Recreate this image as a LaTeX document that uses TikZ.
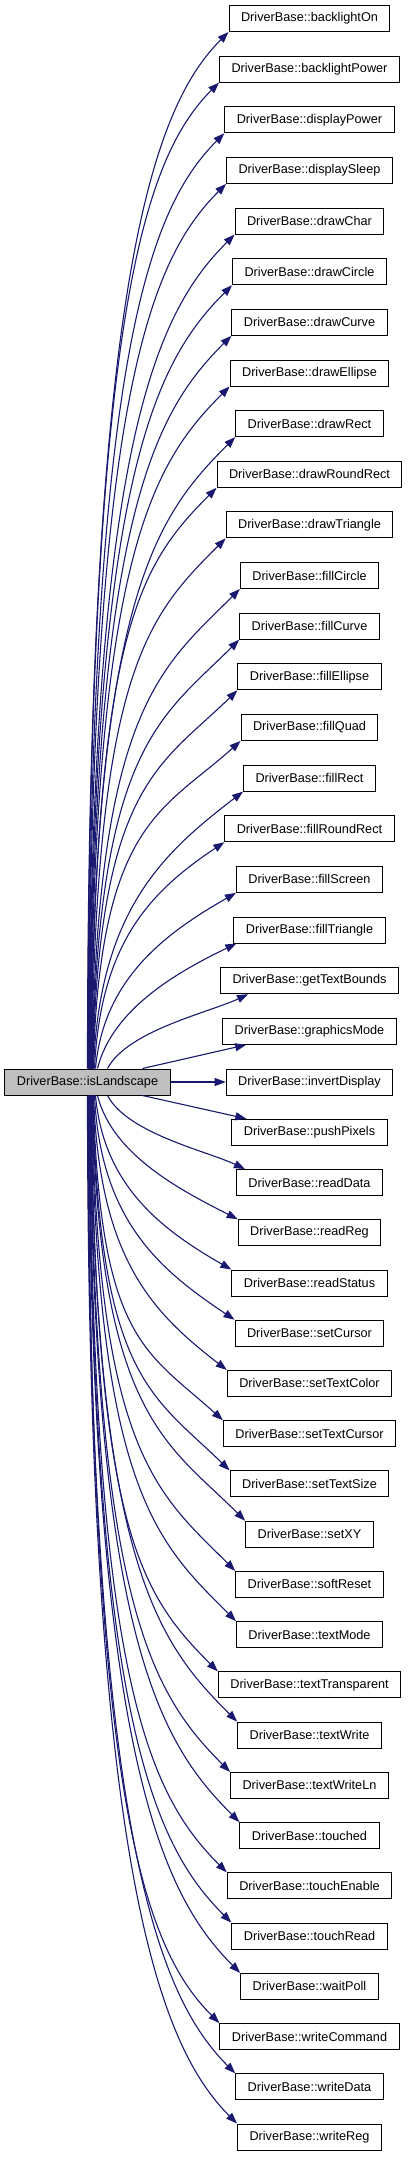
\documentclass[tikz,border=0pt]{standalone}
\usepackage{fontspec}
\setmainfont{Liberation Sans}
\usetikzlibrary{arrows.meta}
\definecolor{edgeblue}{HTML}{191970}
\definecolor{rootgray}{HTML}{BFBFBF}
\begin{document}
\begin{tikzpicture}[x=1pt,y=1pt,
  fn/.style={draw=black, line width=1pt, fill=white, minimum height=26pt, inner xsep=12pt, inner ysep=0pt, font=\fontsize{12.7}{15}\selectfont},
  root/.style={fn, fill=rootgray},
  call/.style={draw=edgeblue, line width=1.1pt, -{Triangle[length=11pt,width=8pt]}}]
\useasboundingbox[fill=white] (0,0) rectangle (407,-2165);
% caller
\node[root] (isLandscape) at (87.5,-1082) {DriverBase::isLandscape};
% callees
\node[fn] (backlightOn) at (309.5,-18.5) {DriverBase::backlightOn};
\node[fn] (backlightPower) at (309.5,-69.1) {DriverBase::backlightPower};
\node[fn] (displayPower) at (309.5,-119.8) {DriverBase::displayPower};
\node[fn] (displaySleep) at (309.5,-170.4) {DriverBase::displaySleep};
\node[fn] (drawChar) at (309.5,-221.1) {DriverBase::drawChar};
\node[fn] (drawCircle) at (309.5,-271.7) {DriverBase::drawCircle};
\node[fn] (drawCurve) at (309.5,-322.3) {DriverBase::drawCurve};
\node[fn] (drawEllipse) at (309.5,-373.0) {DriverBase::drawEllipse};
\node[fn] (drawRect) at (309.5,-423.6) {DriverBase::drawRect};
\node[fn] (drawRoundRect) at (309.5,-474.3) {DriverBase::drawRoundRect};
\node[fn] (drawTriangle) at (309.5,-524.9) {DriverBase::drawTriangle};
\node[fn] (fillCircle) at (309.5,-575.5) {DriverBase::fillCircle};
\node[fn] (fillCurve) at (309.5,-626.2) {DriverBase::fillCurve};
\node[fn] (fillEllipse) at (309.5,-676.8) {DriverBase::fillEllipse};
\node[fn] (fillQuad) at (309.5,-727.5) {DriverBase::fillQuad};
\node[fn] (fillRect) at (309.5,-778.1) {DriverBase::fillRect};
\node[fn] (fillRoundRect) at (309.5,-828.7) {DriverBase::fillRoundRect};
\node[fn] (fillScreen) at (309.5,-879.4) {DriverBase::fillScreen};
\node[fn] (fillTriangle) at (309.5,-930.0) {DriverBase::fillTriangle};
\node[fn] (getTextBounds) at (309.5,-980.7) {DriverBase::getTextBounds};
\node[fn] (graphicsMode) at (309.5,-1031.3) {DriverBase::graphicsMode};
\node[fn] (invertDisplay) at (309.5,-1082) {DriverBase::invertDisplay};
\node[fn] (pushPixels) at (309.5,-1132.2) {DriverBase::pushPixels};
\node[fn] (readData) at (309.5,-1182.5) {DriverBase::readData};
\node[fn] (readReg) at (309.5,-1232.7) {DriverBase::readReg};
\node[fn] (readStatus) at (309.5,-1283.0) {DriverBase::readStatus};
\node[fn] (setCursor) at (309.5,-1333.2) {DriverBase::setCursor};
\node[fn] (setTextColor) at (309.5,-1383.4) {DriverBase::setTextColor};
\node[fn] (setTextCursor) at (309.5,-1433.7) {DriverBase::setTextCursor};
\node[fn] (setTextSize) at (309.5,-1483.9) {DriverBase::setTextSize};
\node[fn] (setXY) at (309.5,-1534.2) {DriverBase::setXY};
\node[fn] (softReset) at (309.5,-1584.4) {DriverBase::softReset};
\node[fn] (textMode) at (309.5,-1634.6) {DriverBase::textMode};
\node[fn] (textTransparent) at (309.5,-1684.9) {DriverBase::textTransparent};
\node[fn] (textWrite) at (309.5,-1735.1) {DriverBase::textWrite};
\node[fn] (textWriteLn) at (309.5,-1785.4) {DriverBase::textWriteLn};
\node[fn] (touched) at (309.5,-1835.6) {DriverBase::touched};
\node[fn] (touchEnable) at (309.5,-1885.8) {DriverBase::touchEnable};
\node[fn] (touchRead) at (309.5,-1936.1) {DriverBase::touchRead};
\node[fn] (waitPoll) at (309.5,-1986.4) {DriverBase::waitPoll};
\node[fn] (writeCommand) at (309.5,-2036.6) {DriverBase::writeCommand};
\node[fn] (writeData) at (309.5,-2086.8) {DriverBase::writeData};
\node[fn] (writeReg) at (309.5,-2137.0) {DriverBase::writeReg};
% calls upwards
\draw[call] ([xshift=0pt]isLandscape.north) .. controls ([xshift=0pt,yshift=778pt]isLandscape.north) and ([shift={(-78pt,-78pt)}]backlightOn.south west) .. (backlightOn.south west);
\draw[call] ([xshift=0.4pt]isLandscape.north) .. controls ([xshift=0.9pt,yshift=740pt]isLandscape.north) and ([shift={(-78pt,-78pt)}]backlightPower.south west) .. (backlightPower.south west);
\draw[call] ([xshift=0.8pt]isLandscape.north) .. controls ([xshift=1.8pt,yshift=702pt]isLandscape.north) and ([shift={(-78pt,-78pt)}]displayPower.south west) .. (displayPower.south west);
\draw[call] ([xshift=1.2pt]isLandscape.north) .. controls ([xshift=2.7pt,yshift=664pt]isLandscape.north) and ([shift={(-78pt,-78pt)}]displaySleep.south west) .. (displaySleep.south west);
\draw[call] ([xshift=1.6pt]isLandscape.north) .. controls ([xshift=3.6pt,yshift=626pt]isLandscape.north) and ([shift={(-78pt,-78pt)}]drawChar.south west) .. (drawChar.south west);
\draw[call] ([xshift=2pt]isLandscape.north) .. controls ([xshift=4.5pt,yshift=588pt]isLandscape.north) and ([shift={(-78pt,-78pt)}]drawCircle.south west) .. (drawCircle.south west);
\draw[call] ([xshift=2.4pt]isLandscape.north) .. controls ([xshift=5.4pt,yshift=550pt]isLandscape.north) and ([shift={(-78pt,-78pt)}]drawCurve.south west) .. (drawCurve.south west);
\draw[call] ([xshift=2.8pt]isLandscape.north) .. controls ([xshift=6.3pt,yshift=512pt]isLandscape.north) and ([shift={(-78pt,-78pt)}]drawEllipse.south west) .. (drawEllipse.south west);
\draw[call] ([xshift=3.2pt]isLandscape.north) .. controls ([xshift=7.2pt,yshift=474pt]isLandscape.north) and ([shift={(-78pt,-78pt)}]drawRect.south west) .. (drawRect.south west);
\draw[call] ([xshift=3.6pt]isLandscape.north) .. controls ([xshift=8.1pt,yshift=436pt]isLandscape.north) and ([shift={(-78pt,-78pt)}]drawRoundRect.south west) .. (drawRoundRect.south west);
\draw[call] ([xshift=4pt]isLandscape.north) .. controls ([xshift=9pt,yshift=398pt]isLandscape.north) and ([shift={(-78pt,-78pt)}]drawTriangle.south west) .. (drawTriangle.south west);
\draw[call] ([xshift=4.4pt]isLandscape.north) .. controls ([xshift=9.9pt,yshift=360pt]isLandscape.north) and ([shift={(-78pt,-78pt)}]fillCircle.south west) .. (fillCircle.south west);
\draw[call] ([xshift=4.8pt]isLandscape.north) .. controls ([xshift=10.8pt,yshift=322pt]isLandscape.north) and ([shift={(-78pt,-78pt)}]fillCurve.south west) .. (fillCurve.south west);
\draw[call] ([xshift=5.2pt]isLandscape.north) .. controls ([xshift=11.7pt,yshift=284pt]isLandscape.north) and ([shift={(-78pt,-76pt)}]fillEllipse.south west) .. (fillEllipse.south west);
\draw[call] ([xshift=5.6pt]isLandscape.north) .. controls ([xshift=12.6pt,yshift=246pt]isLandscape.north) and ([shift={(-78pt,-70pt)}]fillQuad.south west) .. (fillQuad.south west);
\draw[call] ([xshift=6pt]isLandscape.north) .. controls ([xshift=12pt,yshift=160pt]isLandscape.north) and ([shift={(-78pt,-60pt)}]fillRect.south west) .. (fillRect.south west);
\draw[call] ([xshift=7pt]isLandscape.north) .. controls ([xshift=13pt,yshift=125pt]isLandscape.north) and ([shift={(-75pt,-50pt)}]fillRoundRect.south west) .. (fillRoundRect.south west);
\draw[call] ([xshift=8pt]isLandscape.north) .. controls ([xshift=16pt,yshift=90pt]isLandscape.north) and ([shift={(-70pt,-40pt)}]fillScreen.south west) .. (fillScreen.south west);
\draw[call] ([xshift=10pt]isLandscape.north) .. controls ([xshift=25pt,yshift=60pt]isLandscape.north) and ([shift={(-55pt,-28pt)}]fillTriangle.south west) .. ([xshift=3pt]fillTriangle.south west);
\draw[call] ([xshift=20pt]isLandscape.north) .. controls ([xshift=40pt,yshift=38pt]isLandscape.north) and ([shift={(-10pt,-18pt)}]getTextBounds.south west) .. ([xshift=28pt]getTextBounds.south west);
\draw[call] ([xshift=55pt]isLandscape.north) -- ([xshift=24pt]graphicsMode.south west);
% straight across
\draw[call] (isLandscape) -- (invertDisplay);
% calls downwards
\draw[call] ([xshift=55pt]isLandscape.south) -- ([xshift=15pt]pushPixels.north west);
\draw[call] ([xshift=20pt]isLandscape.south) .. controls ([xshift=40pt,yshift=-38pt]isLandscape.south) and ([shift={(-29pt,18pt)}]readData.north west) .. ([xshift=9pt]readData.north west);
\draw[call] ([xshift=10pt]isLandscape.south) .. controls ([xshift=25pt,yshift=-60pt]isLandscape.south) and ([shift={(-55pt,28pt)}]readReg.north west) .. (readReg.north west);
\draw[call] ([xshift=8pt]isLandscape.south) .. controls ([xshift=16pt,yshift=-90pt]isLandscape.south) and ([shift={(-70pt,40pt)}]readStatus.north west) .. (readStatus.north west);
\draw[call] ([xshift=7pt]isLandscape.south) .. controls ([xshift=13pt,yshift=-125pt]isLandscape.south) and ([shift={(-75pt,50pt)}]setCursor.north west) .. (setCursor.north west);
\draw[call] ([xshift=6pt]isLandscape.south) .. controls ([xshift=12pt,yshift=-160pt]isLandscape.south) and ([shift={(-78pt,60pt)}]setTextColor.north west) .. (setTextColor.north west);
\draw[call] ([xshift=5.6pt]isLandscape.south) .. controls ([xshift=12.6pt,yshift=-244pt]isLandscape.south) and ([shift={(-78pt,70pt)}]setTextCursor.north west) .. (setTextCursor.north west);
\draw[call] ([xshift=5.2pt]isLandscape.south) .. controls ([xshift=11.7pt,yshift=-282pt]isLandscape.south) and ([shift={(-78pt,76pt)}]setTextSize.north west) .. (setTextSize.north west);
\draw[call] ([xshift=4.8pt]isLandscape.south) .. controls ([xshift=10.8pt,yshift=-320pt]isLandscape.south) and ([shift={(-78pt,78pt)}]setXY.north west) .. (setXY.north west);
\draw[call] ([xshift=4.4pt]isLandscape.south) .. controls ([xshift=9.9pt,yshift=-357pt]isLandscape.south) and ([shift={(-78pt,78pt)}]softReset.north west) .. (softReset.north west);
\draw[call] ([xshift=4pt]isLandscape.south) .. controls ([xshift=9pt,yshift=-395pt]isLandscape.south) and ([shift={(-78pt,78pt)}]textMode.north west) .. (textMode.north west);
\draw[call] ([xshift=3.6pt]isLandscape.south) .. controls ([xshift=8.1pt,yshift=-433pt]isLandscape.south) and ([shift={(-78pt,78pt)}]textTransparent.north west) .. (textTransparent.north west);
\draw[call] ([xshift=3.2pt]isLandscape.south) .. controls ([xshift=7.2pt,yshift=-470pt]isLandscape.south) and ([shift={(-78pt,78pt)}]textWrite.north west) .. (textWrite.north west);
\draw[call] ([xshift=2.8pt]isLandscape.south) .. controls ([xshift=6.3pt,yshift=-508pt]isLandscape.south) and ([shift={(-78pt,78pt)}]textWriteLn.north west) .. (textWriteLn.north west);
\draw[call] ([xshift=2.4pt]isLandscape.south) .. controls ([xshift=5.4pt,yshift=-546pt]isLandscape.south) and ([shift={(-78pt,78pt)}]touched.north west) .. (touched.north west);
\draw[call] ([xshift=2pt]isLandscape.south) .. controls ([xshift=4.5pt,yshift=-584pt]isLandscape.south) and ([shift={(-78pt,78pt)}]touchEnable.north west) .. (touchEnable.north west);
\draw[call] ([xshift=1.6pt]isLandscape.south) .. controls ([xshift=3.6pt,yshift=-621pt]isLandscape.south) and ([shift={(-78pt,78pt)}]touchRead.north west) .. (touchRead.north west);
\draw[call] ([xshift=1.2pt]isLandscape.south) .. controls ([xshift=2.7pt,yshift=-659pt]isLandscape.south) and ([shift={(-78pt,78pt)}]waitPoll.north west) .. (waitPoll.north west);
\draw[call] ([xshift=0.8pt]isLandscape.south) .. controls ([xshift=1.8pt,yshift=-697pt]isLandscape.south) and ([shift={(-78pt,78pt)}]writeCommand.north west) .. (writeCommand.north west);
\draw[call] ([xshift=0.4pt]isLandscape.south) .. controls ([xshift=0.9pt,yshift=-734pt]isLandscape.south) and ([shift={(-78pt,78pt)}]writeData.north west) .. (writeData.north west);
\draw[call] ([xshift=0pt]isLandscape.south) .. controls ([xshift=0pt,yshift=-772pt]isLandscape.south) and ([shift={(-78pt,78pt)}]writeReg.north west) .. (writeReg.north west);
\end{tikzpicture}
\end{document}
